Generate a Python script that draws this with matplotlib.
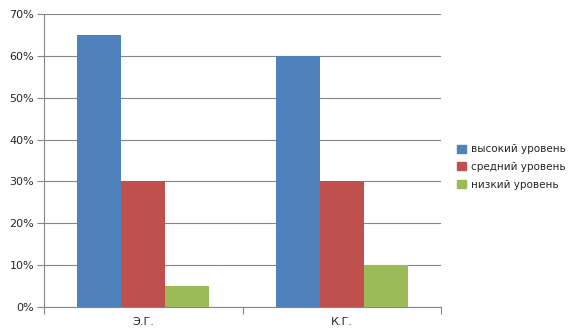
import matplotlib.pyplot as plt
from matplotlib.patches import Patch
import numpy as np

groups = ["Э.Г.", "К.Г."]
series = ["высокий уровень", "средний уровень", "низкий уровень"]
high = [65, 60]
mid = [30, 30]
low = [5, 10]
colors = ["#4f81bd", "#c0504d", "#9bbb59"]

fig = plt.figure(figsize=(5.76, 3.36), dpi=100)
ax = fig.add_axes([44 / 576, 29 / 336, 397 / 576, 293 / 336])

x = np.arange(len(groups))
w = 0.222
for i, (vals, c) in enumerate(zip([high, mid, low], colors)):
    ax.bar(x + (i - 1) * w, vals, width=w, color=c, zorder=3)

ax.set_xlim(-0.5, 1.5)
ax.set_ylim(0, 70)
ax.set_yticks(range(0, 71, 10))
ax.set_yticklabels([f"{v}%" for v in range(0, 71, 10)])
ax.yaxis.grid(True, color="#868686", linewidth=0.8, zorder=0)

ax.set_xticks(x)
ax.set_xticklabels(groups)
ax.set_xticks([-0.5, 0.5, 1.5], minor=True)
ax.tick_params(axis="x", which="major", length=0, pad=7)
ax.tick_params(axis="x", which="minor", length=5, color="#868686", width=0.8)
ax.tick_params(axis="y", length=5, color="#868686", width=0.8, pad=2)
ax.tick_params(labelsize=8, labelcolor="#262626")

for s in ["top", "right"]:
    ax.spines[s].set_visible(False)
for s in ["left", "bottom"]:
    ax.spines[s].set_color("#868686")
    ax.spines[s].set_linewidth(0.8)

handles = [Patch(color=c, label=l) for c, l in zip(colors, series)]
fig.legend(handles=handles, loc="center left", bbox_to_anchor=(448 / 576, 1 - 167 / 336),
           frameon=False, fontsize=7.5, handlelength=0.8, handleheight=0.8,
           handletextpad=0.5, labelspacing=0.75, labelcolor="#262626")

fig.savefig("out.png", dpi=100)
